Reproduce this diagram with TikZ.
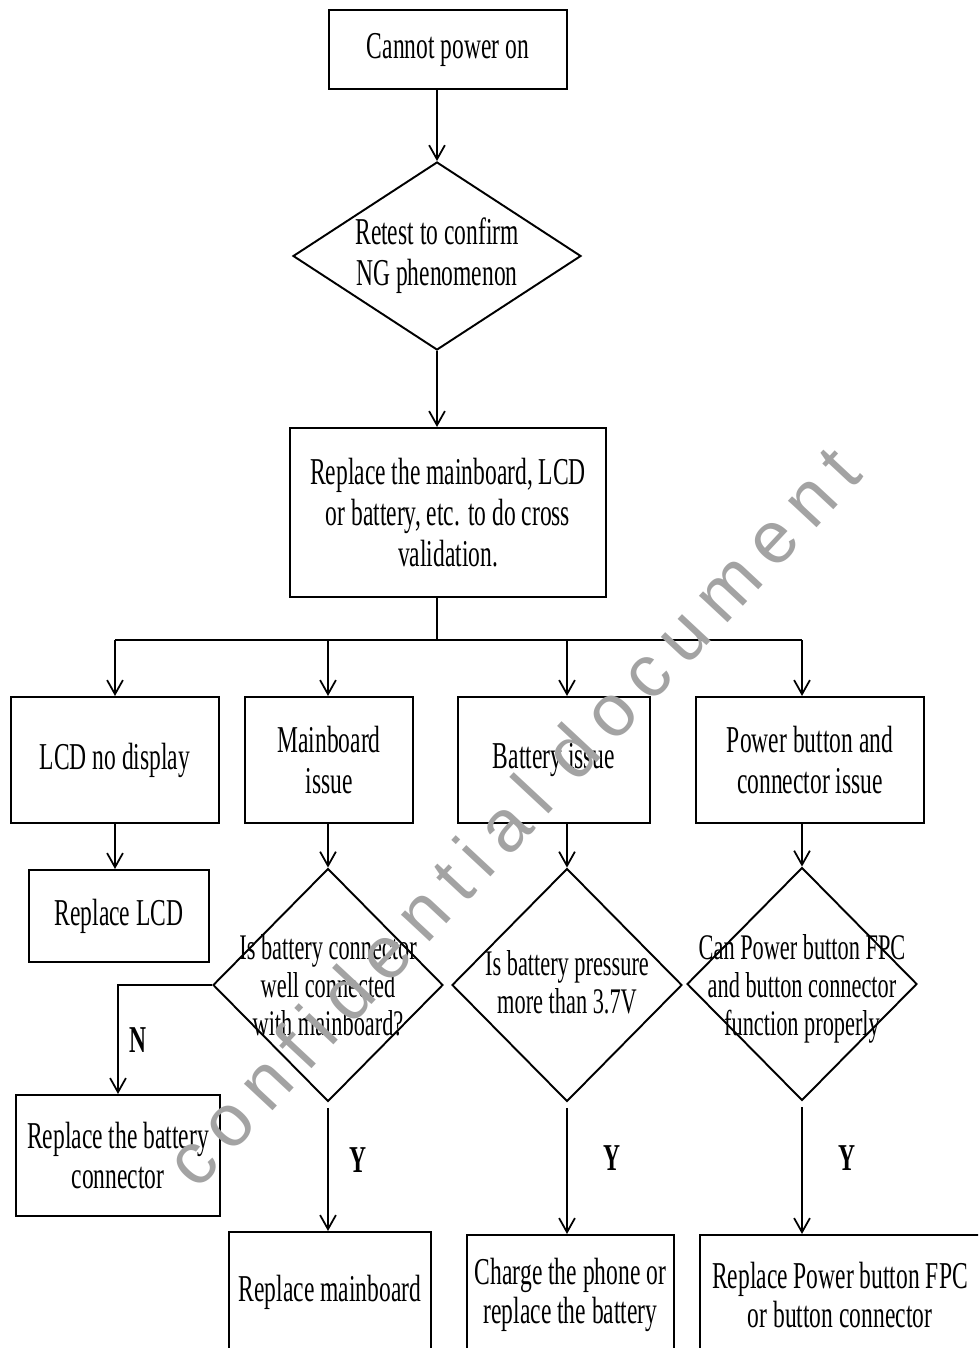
\documentclass[tikz,border=0pt]{standalone}
\usepackage{fontspec}
\newfontfamily\chartfont{Liberation Serif}[FakeStretch=0.62]
\newfontfamily\markfont{Liberation Sans}[LetterSpace=19]
\usetikzlibrary{arrows.meta,shapes.geometric,calc,positioning}
\tikzstyle{box}     =[draw, rectangle, line width=1.2pt, inner sep=0pt,
                      align=center, font=\chartfont\fontsize{21.6}{23.3}\selectfont]
\tikzstyle{decision}=[draw, diamond, line width=1.1pt, inner sep=0pt]
\tikzstyle{ask}     =[inner sep=0pt, align=center,
                      font=\chartfont\fontsize{20.5}{21.6}\selectfont]
\tikzstyle{answer}  =[inner sep=0pt, font=\chartfont\bfseries\fontsize{21.6}{23}\selectfont]
\tikzstyle{link}    =[line width=1pt]
\tikzstyle{flow}    =[link, -{Straight Barb[length=8pt,width=9pt]}]
\tikzstyle{stamp}   =[inner sep=0pt, text=black!36, rotate=47, anchor=base west,
                      font=\markfont\fontsize{42}{44}\selectfont]

\begin{document}
\begin{tikzpicture}
    \useasboundingbox (0,0) rectangle (19.56,-26.96);
    \clip (0,0) rectangle (19.56,-26.96);

    % main trunk
    \node[box, minimum width=4.76cm, minimum height=1.58cm] (start) at (8.96,-0.99) {Cannot power on};
    \node[decision, minimum width=5.76cm, minimum height=3.76cm] (retest) at (8.74,-5.12) {};
    \node[ask, font=\chartfont\fontsize{21.6}{23.3}\selectfont] (retesttext) at (retest) {Retest to confirm\\NG phenomenon};
    \node[box, minimum width=6.32cm, minimum height=3.38cm] (cross) at (8.96,-10.25)
        {Replace the mainboard, LCD\\or battery, etc. to do cross\\validation.};
    \coordinate (split) at (8.74,-12.8);

    % the four cases
    \node[box, minimum width=4.16cm, minimum height=2.52cm] (lcd) at (2.30,-15.2) {LCD no display};
    \node[box, minimum width=3.36cm, minimum height=2.52cm] (mainissue) at (6.58,-15.2) {Mainboard\\issue};
    \node[box, minimum width=3.84cm, minimum height=2.52cm] (battissue) at (11.08,-15.2) {Battery issue};
    \node[box, minimum width=4.56cm, minimum height=2.52cm] (powerissue) at (16.2,-15.2) {Power button and\\connector issue};

    % checks
    \node[box, minimum width=3.6cm, minimum height=1.84cm] (replcd) at (2.38,-18.32) {Replace LCD};
    \node[decision, minimum width=4.6cm, minimum height=4.66cm] (maindia) at (6.56,-19.7) {};
    \node[ask] (maindiatext) at (maindia) {Is battery connector\\well connected\\with mainboard?};
    \node[decision, minimum width=4.6cm, minimum height=4.66cm] (battdia) at (11.34,-19.7) {};
    \node[ask] (battdiatext) at ($(battdia)+(0,0.05)$) {Is battery pressure\\more than 3.7V};
    \node[decision, minimum width=4.6cm, minimum height=4.66cm] (powerdia) at (16.04,-19.68) {};
    \node[ask] (powerdiatext) at ($(powerdia)+(0,-0.1)$) {Can Power button FPC\\and button connector\\function properly};

    % fixes
    \node[box, minimum width=4.08cm, minimum height=2.42cm] (repconn) at (2.36,-23.11) {Replace the battery\\connector};
    \node[box, minimum width=4.04cm, minimum height=2.4cm] (repmain) at (6.6,-25.84) {Replace mainboard};
    \node[box, minimum width=4.14cm, minimum height=2.4cm,
          font=\chartfont\fontsize{21.6}{21.8}\selectfont] (charge) at (11.41,-25.9) {Charge the phone or\\replace the battery};
    \node[box, minimum width=5.6cm, minimum height=2.4cm,
          font=\chartfont\fontsize{21.6}{21.8}\selectfont] (reppower) at (16.8,-25.9) {Replace Power button FPC\\or button connector};

    \node[answer] (nmain) at (2.76,-20.8) {N};
    \node[answer] (ymain) at (7.16,-23.2) {Y};
    \node[answer] (ybatt) at (12.24,-23.16) {Y};
    \node[answer] (ypower) at (16.94,-23.16) {Y};

    \draw[flow] (start.south -| retest) -- (retest.north);
    \draw[flow] (retest.south) -- (cross.north -| retest);
    \draw[link] (cross.south -| split) -- (split);
    \draw[link] (split -| lcd) -- (split -| powerdia);
    \draw[flow] (split -| lcd) -- (lcd.north);
    \draw[flow] (split -| maindia) -- (mainissue.north -| maindia);
    \draw[flow] (split -| battdia) -- (battissue.north -| battdia);
    \draw[flow] (split -| powerdia) -- (powerissue.north -| powerdia);

    \draw[flow] (lcd.south) -- (replcd.north -| lcd);
    \draw[flow] (mainissue.south -| maindia) -- (maindia.north);
    \draw[flow] (battissue.south -| battdia) -- (battdia.north);
    \draw[flow] (powerissue.south -| powerdia) -- (powerdia.north);

    \draw[flow] (maindia.west) -| (repconn.north);
    \draw[flow, shorten <=3pt] (maindia.south) -- (repmain.north -| maindia);
    \draw[flow, shorten <=3pt] (battdia.south) -- (charge.north -| battdia);
    \draw[flow, shorten <=3pt] (powerdia.south) -- (reppower.north -| powerdia);

    \node[stamp] (mark) at (3.94,-23.84) {confidential\hspace{0.39em}document};
\end{tikzpicture}
\end{document}
